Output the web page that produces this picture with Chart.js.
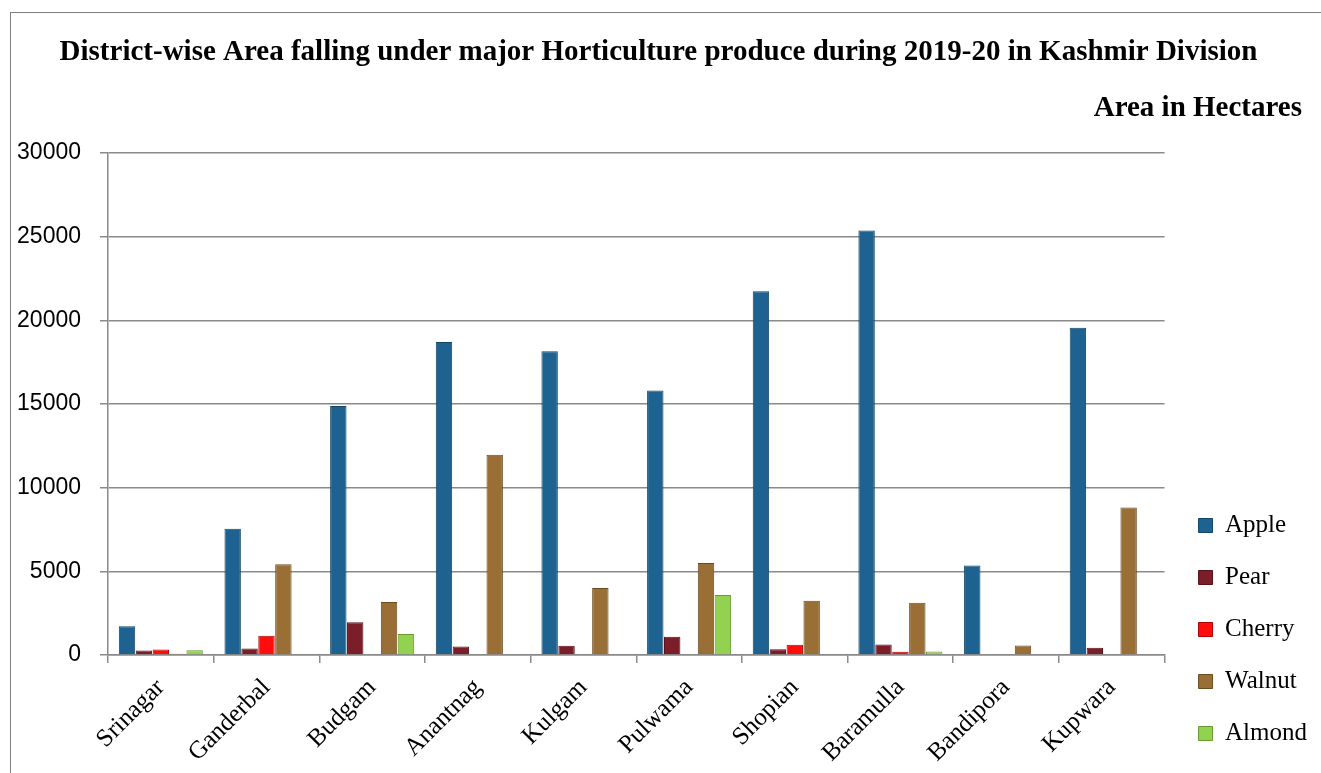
<!DOCTYPE html>
<html>
<head>
<meta charset="utf-8">
<script src="https://cdn.jsdelivr.net/npm/chart.js@4/dist/chart.umd.min.js"></script>
<style>
  html, body { margin: 0; padding: 0; background: #fff; overflow: hidden; }
  #wrap { position: relative; width: 1321px; height: 773px; }
  #frame { position: absolute; left: 10px; top: 12px; right: -5px; bottom: -5px;
           border-left: 1px solid #7f7f7f; border-top: 1px solid #7f7f7f; pointer-events: none; }
</style>
</head>
<body>
<div id="wrap">
  <canvas id="c" width="1321" height="773"></canvas>
  <div id="frame"></div>
</div>
<script>
const titleText = "District-wise Area falling under major Horticulture produce during 2019-20 in Kashmir Division";
const subtitleText = "Area in Hectares";
const districts = ["Srinagar", "Ganderbal", "Budgam", "Anantnag", "Kulgam", "Pulwama", "Shopian", "Baramulla", "Bandipora", "Kupwara"];
const apple  = [1720, 7550, 14880, 18710, 18150, 15800, 21740, 25370, 5350, 19550];
const pear   = [270, 390, 1960, 510, 550, 1090, 350, 630, 50, 430];
const cherry = [330, 1150, 0, 40, 40, 0, 610, 190, 0, 40];
const walnut = [80, 5430, 3160, 11970, 4010, 5500, 3240, 3120, 570, 8820];
const almond = [290, 0, 1250, 0, 0, 3590, 0, 210, 0, 0];
const yTicks = [0, 5000, 10000, 15000, 20000, 25000, 30000];

const gridGray = '#8a8a8a';

const subtitleShift = {
  id: 'subtitleShift',
  afterLayout(chart) {
    const b = chart.boxes.find(x => x.options && x.options.text === subtitleText);
    if (b) { b.right -= 15; }
  }
};

new Chart(document.getElementById('c'), {
  type: 'bar',
  data: {
    labels: districts,
    datasets: [
      { label: 'Apple',  data: apple,  backgroundColor: '#1d6290', borderColor: '#134565', borderWidth: 1 },
      { label: 'Pear',   data: pear,   backgroundColor: '#7c1e29', borderColor: '#55121a', borderWidth: 1 },
      { label: 'Cherry', data: cherry, backgroundColor: '#ff0d0d', borderColor: '#b30000', borderWidth: 1 },
      { label: 'Walnut', data: walnut, backgroundColor: '#9a6f35', borderColor: '#6b4b20', borderWidth: 1 },
      { label: 'Almond', data: almond, backgroundColor: '#93d150', borderColor: '#669a30', borderWidth: 1 }
    ]
  },
  options: {
    responsive: false,
    animation: false,
    events: [],
    layout: { padding: { left: 0, right: 4, top: 0, bottom: 0 } },
    datasets: { bar: { categoryPercentage: 0.8, barPercentage: 0.97 } },
    plugins: {
      title: {
        display: true, text: titleText, color: '#000',
        font: { family: 'Liberation Serif', size: 29, weight: 'bold', lineHeight: 1.2 },
        padding: { top: 35.1, bottom: 0 }
      },
      subtitle: {
        display: true, text: subtitleText, color: '#000', align: 'end',
        font: { family: 'Liberation Serif', size: 29, weight: 'bold', lineHeight: 1.2 },
        padding: { top: 21.7, bottom: 26.6 }
      },
      legend: {
        display: true, position: 'right', align: 'end',
        labels: {
          color: '#000', boxWidth: 14, boxHeight: 14, padding: 27,
          font: { family: 'Liberation Serif', size: 25 }
        }
      },
      tooltip: { enabled: false }
    },
    scales: {
      x: {
        grid: { display: true, drawOnChartArea: false, drawTicks: true, tickLength: 8, color: gridGray, lineWidth: 1.5 },
        border: { display: true, color: gridGray, width: 1.5 },
        ticks: { color: '#000', minRotation: 45, maxRotation: 45, padding: 10,
                 font: { family: 'Liberation Serif', size: 25 } },
        afterFit(s) { s.height = 118; }
      },
      y: {
        min: 0, max: 30000,
        afterBuildTicks(s) { s.ticks = yTicks.map(v => ({ value: v })); },
        grid: { color: gridGray, lineWidth: 1.5, tickLength: 8, drawTicks: true },
        border: { display: true, color: gridGray, width: 1.5 },
        ticks: { color: '#000', padding: 19, font: { family: 'Liberation Sans', size: 23 },
                 callback: v => String(v) },
        afterFit(s) { s.width = 108; }
      },
      yGap: {
        position: 'right', display: true,
        grid: { display: false }, border: { display: false },
        ticks: { display: false },
        afterFit(s) { s.width = 7; }
      }
    }
  },
  plugins: [subtitleShift]
});
</script>
</body>
</html>
